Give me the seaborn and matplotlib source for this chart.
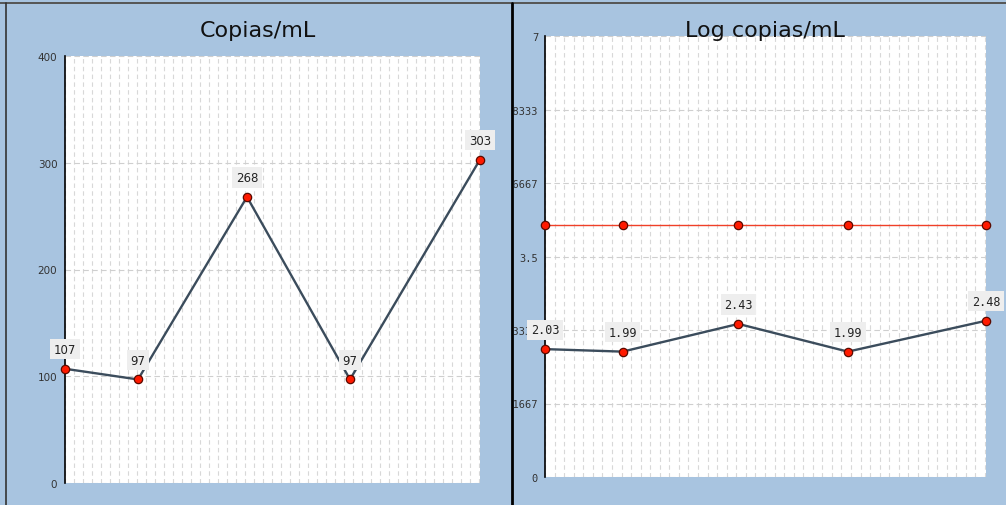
import matplotlib
matplotlib.use("Agg")
import matplotlib.pyplot as plt
from matplotlib.ticker import MultipleLocator, FixedLocator, AutoMinorLocator
from matplotlib.transforms import Bbox, TransformedBbox
from matplotlib.lines import Line2D
import seaborn as sns
import pandas as pd

# Datos (eje x = dias desde la primera muestra)
dias = [0, 73, 182, 285, 415]
copias = [107, 97, 268, 97, 303]
log_copias = [2.03, 1.99, 2.43, 1.99, 2.48]
limite_log = [4.0, 4.0, 4.0, 4.0, 4.0]

ticks_copias = [0, 100, 200, 300, 400]
ticks_log = [0, 7 / 6, 14 / 6, 3.5, 28 / 6, 35 / 6, 7]
etiquetas_log = ["0", "1.1667", "2.3333", "3.5", "4.6667", "5.8333", "7"]

titulo_izq = "Copias/mL"
titulo_der = "Log copias/mL"

AZUL_FONDO = "#a8c4e0"
LINEA = "#3b4c5c"
ROJO = "#ff1a00"

sns.set_style("white")
plt.rcParams["font.family"] = ["DejaVu Sans"]

W, H = 1006, 506
fig = plt.figure(figsize=(W / 100, H / 100), dpi=100, facecolor=AZUL_FONDO)

df = pd.DataFrame({"dias": dias, "copias": copias, "log": log_copias, "limite": limite_log})


def px_rect(x0, y_top, x1, y_bot):
    # convierte pixeles (origen arriba-izquierda) a fraccion de figura
    return [x0 / W, 1 - y_bot / H, (x1 - x0) / W, (y_bot - y_top) / H]


def estilo_ejes(ax):
    ax.set_facecolor("white")
    for s in ["top", "right", "bottom"]:
        ax.spines[s].set_visible(False)
    ax.spines["left"].set_color("black")
    ax.spines["left"].set_linewidth(1.2)
    ax.set_xlim(dias[0], dias[-1])
    ax.set_xticks([])
    ax.xaxis.set_minor_locator(MultipleLocator(9))
    ax.tick_params(axis="x", which="both", length=0, labelbottom=False)
    ax.tick_params(axis="y", which="major", direction="in", length=4.5, width=1,
                   pad=5.5, labelsize=7.5, labelcolor="#333333")
    ax.tick_params(axis="y", which="minor", direction="in", length=2.5, width=1)
    ax.grid(which="minor", axis="x", color="#d8d8d8", linestyle=(0, (4, 3)), linewidth=0.8)
    ax.grid(which="major", axis="y", color="#cfcfcf", linestyle=(0, (5, 3)), linewidth=0.8)
    ax.set_axisbelow(True)
    ax.set_xlabel("")
    ax.set_ylabel("")


def etiquetas(ax, valores, fmt, familia, tam):
    for x, v in zip(dias, valores):
        ax.annotate(fmt.format(v), (x, v), xytext=(0, 14), textcoords="offset points",
                    ha="center", va="center", fontsize=tam, family=familia, color="#222222",
                    bbox=dict(boxstyle="square,pad=0.3", fc="#eeeeee", ec="none"),
                    annotation_clip=False, zorder=5)


marcador = dict(marker="o", markersize=6, markerfacecolor=ROJO, markeredgecolor="#5a0a00",
                markeredgewidth=0.9, clip_on=False, zorder=4)

# Panel izquierdo: copias/mL
ax1 = fig.add_axes(px_rect(65, 57, 480, 484))
sns.lineplot(data=df, x="dias", y="copias", ax=ax1, color=LINEA, linewidth=1.7, **marcador)
estilo_ejes(ax1)
ax1.set_ylim(0, 400)
ax1.yaxis.set_major_locator(FixedLocator(ticks_copias))
ax1.yaxis.set_minor_locator(MultipleLocator(25))
etiquetas(ax1, copias, "{:d}", "DejaVu Sans", 8.5)

# Panel derecho: log copias/mL
ax2 = fig.add_axes(px_rect(545, 37, 986, 478))
sns.lineplot(data=df, x="dias", y="limite", ax=ax2, color="#f04028", linewidth=1.0, **marcador)
sns.lineplot(data=df, x="dias", y="log", ax=ax2, color=LINEA, linewidth=1.7, **marcador)
estilo_ejes(ax2)
ax2.set_ylim(0, 7)
ax2.set_yticks(ticks_log)
ax2.set_yticklabels(etiquetas_log, family="DejaVu Sans Mono", fontsize=7.5)
ax2.yaxis.set_minor_locator(AutoMinorLocator(4))
ax2.tick_params(axis="y", which="major", pad=5)
etiquetas(ax2, log_copias, "{:.2f}", "DejaVu Sans Mono", 8.5)

# las etiquetas del eje derecho quedan recortadas por el borde del panel
recorte = TransformedBbox(Bbox([[514 / W, 0], [1, 1]]), fig.transFigure)
for t in ax2.get_yticklabels():
    t.set_clip_box(recorte)
    t.set_clip_on(True)

# titulos
fig.text(258 / W, 1 - 37 / H, titulo_izq, ha="center", va="baseline", fontsize=16, color="#111111")
fig.text(765 / W, 1 - 37 / H, titulo_der, ha="center", va="baseline", fontsize=16, color="#111111")

# marcos de los paneles
fig.add_artist(Line2D([0, 1], [1 - 3.5 / H, 1 - 3.5 / H], transform=fig.transFigure,
                      color="#555555", linewidth=1.4))
fig.add_artist(Line2D([6 / W, 6 / W], [0, 1 - 3.5 / H], transform=fig.transFigure,
                      color="#333333", linewidth=1.2))
fig.add_artist(Line2D([512 / W, 512 / W], [0, 1 - 3.5 / H], transform=fig.transFigure,
                      color="black", linewidth=2))

fig.savefig("out.png", dpi=100, facecolor=AZUL_FONDO)
